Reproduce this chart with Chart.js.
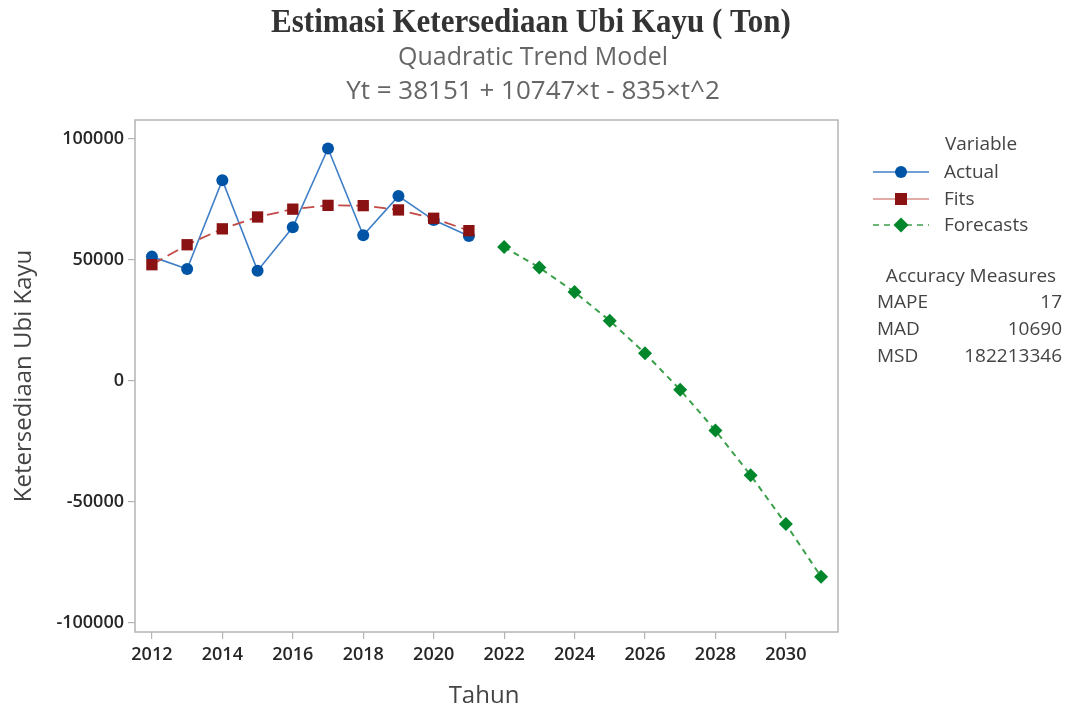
<!DOCTYPE html>
<html>
<head>
<meta charset="utf-8">
<script src="https://cdn.jsdelivr.net/npm/chart.js@4"></script>
<style>
html,body{margin:0;padding:0;background:#fff;}
#wrap{width:1068px;height:709px;position:relative;}
</style>
</head>
<body>
<div id="wrap"><canvas id="c" width="1068" height="709"></canvas></div>
<script>
// ---- data ----
const years = [2012, 2013, 2014, 2015, 2016, 2017, 2018, 2019, 2020, 2021];
const actual = [51400, 46300, 83000, 45600, 63500, 96100, 60200, 76400, 66500, 59900];
const fits = [48063, 56305, 62877, 67779, 71011, 72573, 72465, 70687, 67239, 62121];
const forecastYears = [2022, 2023, 2024, 2025, 2026, 2027, 2028, 2029, 2030, 2031];
const forecasts = [55333, 46875, 36747, 24949, 11481, -3657, -20465, -38943, -59091, -80909];
const xTicks = [2012, 2014, 2016, 2018, 2020, 2022, 2024, 2026, 2028, 2030];
const yTicks = [-100000, -50000, 0, 50000, 100000];
const accuracy = [["MAPE", "17"], ["MAD", "10690"], ["MSD", "182213346"]];

const pts = (xs, ys) => xs.map((x, i) => ({x: x, y: ys[i]}));

const SANS = "'Open Sans', 'Noto Sans', sans-serif";

function stretchText(ctx, text, x, y, sy) {
  ctx.save();
  ctx.translate(x, y);
  ctx.scale(1, sy);
  ctx.fillText(text, 0, 0);
  ctx.restore();
}

const overlay = {
  id: 'overlay',
  afterDraw(chart) {
    const ctx = chart.ctx;
    const a = chart.chartArea;
    ctx.save();
    // frame
    ctx.strokeStyle = '#b4b4b4';
    ctx.lineWidth = 1.5;
    ctx.strokeRect(a.left, a.top, a.right - a.left, a.bottom - a.top);
    // titles
    ctx.textAlign = 'center';
    ctx.textBaseline = 'alphabetic';
    ctx.fillStyle = '#333';
    ctx.font = "bold 31px 'Liberation Serif', serif";
    stretchText(ctx, 'Estimasi Ketersediaan Ubi Kayu ( Ton)', 531, 32, 1.1);
    ctx.fillStyle = '#666';
    ctx.font = "25px " + SANS;
    stretchText(ctx, 'Quadratic Trend Model', 533, 65, 1.05);
    ctx.font = "26px " + SANS;
    stretchText(ctx, 'Yt = 38151 + 10747\u00d7t - 835\u00d7t^2', 533, 99, 1.0);
    // axis titles
    ctx.fillStyle = '#444';
    ctx.font = "24px " + SANS;
    ctx.fillText('Tahun', 484, 703);
    ctx.save();
    ctx.translate(31, 376);
    ctx.rotate(-Math.PI / 2);
    ctx.fillText('Ketersediaan Ubi Kayu', 0, 0);
    ctx.restore();
    // legend
    ctx.textBaseline = 'middle';
    ctx.font = "19px " + SANS;
    ctx.fillStyle = '#444';
    ctx.fillText('Variable', 981, 145);
    ctx.textAlign = 'left';
    const rows = [
      {label: 'Actual', y: 172, line: '#3f7fc7', dash: [], marker: 'circle', mc: '#0054a6'},
      {label: 'Fits', y: 199, line: '#d9908c', dash: [], marker: 'rect', mc: '#8b1212'},
      {label: 'Forecasts', y: 225, line: '#3aa04a', dash: [6, 5], marker: 'diamond', mc: '#00872c'}
    ];
    rows.forEach(r => {
      ctx.strokeStyle = r.line;
      ctx.lineWidth = 1.5;
      ctx.setLineDash(r.dash);
      ctx.beginPath();
      ctx.moveTo(873, r.y);
      ctx.lineTo(929, r.y);
      ctx.stroke();
      ctx.setLineDash([]);
      ctx.fillStyle = r.mc;
      ctx.beginPath();
      if (r.marker === 'circle') {
        ctx.arc(901, r.y, 6, 0, Math.PI * 2);
      } else if (r.marker === 'rect') {
        ctx.rect(895, r.y - 6, 12, 12);
      } else {
        ctx.moveTo(901, r.y - 7.5); ctx.lineTo(908.5, r.y); ctx.lineTo(901, r.y + 7.5); ctx.lineTo(893.5, r.y);
        ctx.closePath();
      }
      ctx.fill();
      ctx.fillStyle = '#444';
      ctx.fillText(r.label, 944, r.y + 1);
    });
    // accuracy
    ctx.textAlign = 'center';
    ctx.fillText('Accuracy Measures', 971, 277);
    accuracy.forEach((row, i) => {
      const y = 303 + i * 27;
      ctx.textAlign = 'left';
      ctx.fillText(row[0], 877, y);
      ctx.textAlign = 'right';
      ctx.fillText(row[1], 1062, y);
    });
    ctx.restore();
  }
};

new Chart(document.getElementById('c'), {
  type: 'line',
  data: {
    datasets: [
      {
        label: 'Actual',
        data: pts(years, actual),
        borderColor: '#3f7fc7',
        borderWidth: 1.6,
        pointStyle: 'circle',
        pointRadius: 6,
        pointBackgroundColor: '#0054a6',
        pointBorderColor: '#0054a6',
        pointBorderWidth: 0,
        fill: false,
        order: 2
      },
      {
        label: 'Fits',
        data: pts(years, fits),
        borderColor: '#c24a46',
        borderWidth: 1.8,
        borderDash: [12, 6],
        pointStyle: 'rect',
        pointRadius: 8,
        pointBackgroundColor: '#8b1212',
        pointBorderColor: '#8b1212',
        pointBorderWidth: 0,
        fill: false,
        order: 1
      },
      {
        label: 'Forecasts',
        data: pts(forecastYears, forecasts),
        borderColor: '#3aa04a',
        borderWidth: 2,
        borderDash: [6, 5],
        pointStyle: 'rectRot',
        pointRadius: 7,
        pointBackgroundColor: '#00872c',
        pointBorderColor: '#00872c',
        pointBorderWidth: 0,
        fill: false,
        order: 3
      }
    ]
  },
  options: {
    responsive: false,
    animation: false,
    layout: {padding: {left: 0, right: 230, top: 120, bottom: 0}},
    plugins: {legend: {display: false}, tooltip: {enabled: false}, title: {display: false}},
    scales: {
      x: {
        type: 'linear',
        min: 2011.52,
        max: 2031.48,
        afterBuildTicks: s => { s.ticks = xTicks.map(v => ({value: v})); },
        afterFit: s => { s.height = 77; },
        grid: {display: true, drawOnChartArea: false, drawTicks: true, tickLength: 7, color: '#b4b4b4', lineWidth: 1.2},
        border: {display: false},
        ticks: {
          color: '#262626',
          padding: 5,
          maxRotation: 0,
          autoSkip: false,
          font: {family: SANS, size: 18, weight: '600'},
          callback: v => String(v)
        }
      },
      y: {
        type: 'linear',
        min: -103700,
        max: 107850,
        afterBuildTicks: s => { s.ticks = yTicks.map(v => ({value: v})); },
        afterFit: s => { s.width = 135; },
        grid: {display: true, drawOnChartArea: false, drawTicks: true, tickLength: 7, color: '#b4b4b4', lineWidth: 1.2},
        border: {display: false},
        ticks: {
          color: '#262626',
          padding: 4,
          autoSkip: false,
          font: {family: SANS, size: 18, weight: '600'},
          callback: v => String(v)
        }
      }
    }
  },
  plugins: [overlay]
});
</script>
</body>
</html>
